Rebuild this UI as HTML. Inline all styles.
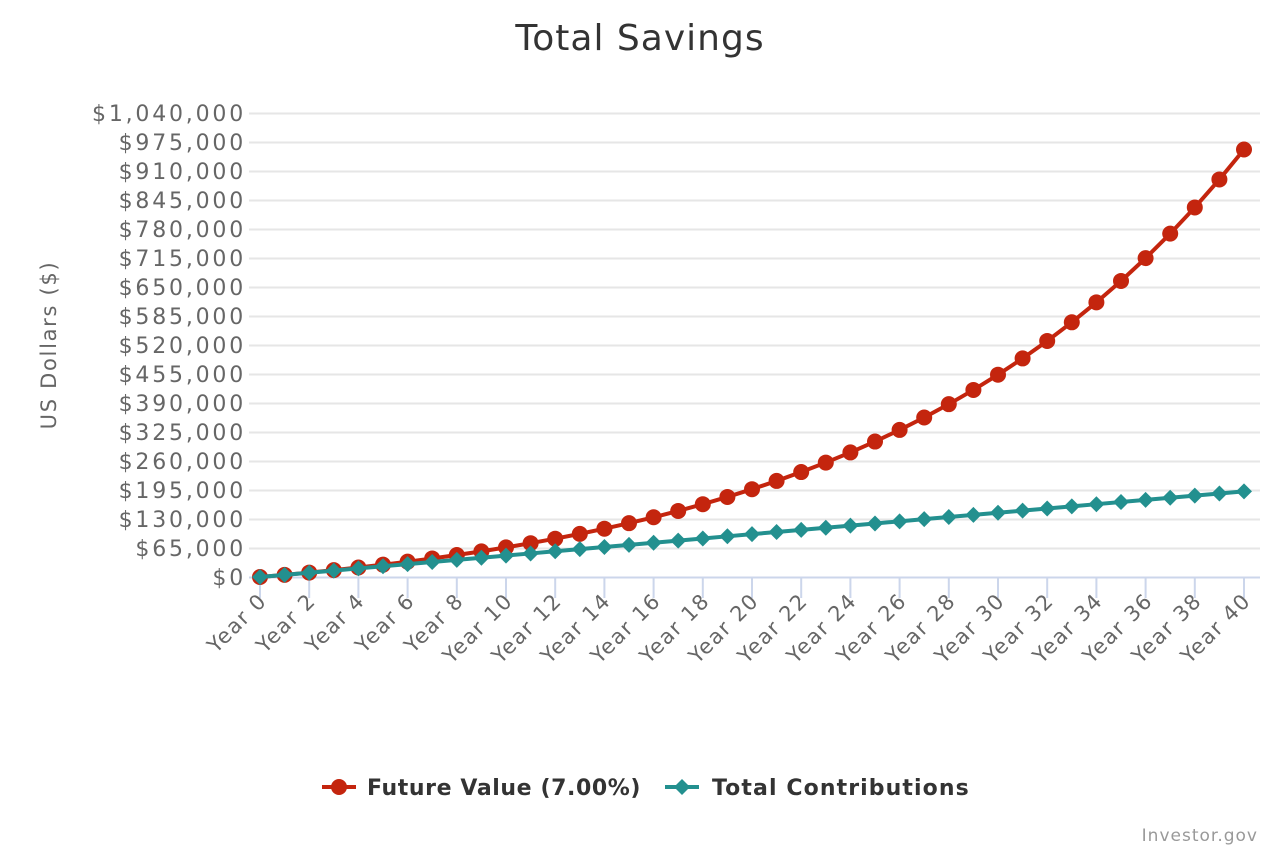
<!DOCTYPE html>
<html><head><meta charset="utf-8"><style>
html,body{margin:0;padding:0;background:#fff;}
svg{display:block;font-family:"DejaVu Sans","Liberation Sans",sans-serif;}
</style></head><body>
<svg id="c" width="1280" height="853" viewBox="0 0 1280 853">
<text x="640" y="50" text-anchor="middle" font-size="36" letter-spacing="1" fill="#333">Total Savings</text>
<g id="grid" stroke="#e6e6e6" stroke-width="2"></g>
<line x1="249" y1="577.5" x2="1260" y2="577.5" stroke="#ccd6eb" stroke-width="2"/>
<g id="ticks" stroke="#ccd6eb" stroke-width="2"></g>
<g font-size="22" letter-spacing="2.8" fill="#666" text-anchor="end">
<text x="246" y="585">$0</text>
<text x="246" y="556">$65,000</text>
<text x="246" y="527">$130,000</text>
<text x="246" y="498">$195,000</text>
<text x="246" y="469">$260,000</text>
<text x="246" y="440">$325,000</text>
<text x="246" y="411">$390,000</text>
<text x="246" y="382">$455,000</text>
<text x="246" y="353">$520,000</text>
<text x="246" y="324">$585,000</text>
<text x="246" y="295">$650,000</text>
<text x="246" y="266">$715,000</text>
<text x="246" y="237">$780,000</text>
<text x="246" y="208">$845,000</text>
<text x="246" y="179">$910,000</text>
<text x="246" y="150">$975,000</text>
<text x="246" y="121">$1,040,000</text>
</g>
<text transform="translate(56,345) rotate(-90)" text-anchor="middle" font-size="21" letter-spacing="1.7" fill="#666">US Dollars ($)</text>
<g font-size="21" letter-spacing="1.5" fill="#666" text-anchor="end">
<text transform="translate(268,602) rotate(-45)">Year 0</text>
<text transform="translate(317,602) rotate(-45)">Year 2</text>
<text transform="translate(366,602) rotate(-45)">Year 4</text>
<text transform="translate(416,602) rotate(-45)">Year 6</text>
<text transform="translate(465,602) rotate(-45)">Year 8</text>
<text transform="translate(514,602) rotate(-45)">Year 10</text>
<text transform="translate(563,602) rotate(-45)">Year 12</text>
<text transform="translate(612,602) rotate(-45)">Year 14</text>
<text transform="translate(662,602) rotate(-45)">Year 16</text>
<text transform="translate(711,602) rotate(-45)">Year 18</text>
<text transform="translate(760,602) rotate(-45)">Year 20</text>
<text transform="translate(809,602) rotate(-45)">Year 22</text>
<text transform="translate(858,602) rotate(-45)">Year 24</text>
<text transform="translate(908,602) rotate(-45)">Year 26</text>
<text transform="translate(957,602) rotate(-45)">Year 28</text>
<text transform="translate(1006,602) rotate(-45)">Year 30</text>
<text transform="translate(1055,602) rotate(-45)">Year 32</text>
<text transform="translate(1104,602) rotate(-45)">Year 34</text>
<text transform="translate(1154,602) rotate(-45)">Year 36</text>
<text transform="translate(1203,602) rotate(-45)">Year 38</text>
<text transform="translate(1252,602) rotate(-45)">Year 40</text>
</g>
<g id="series"></g>
<g font-size="22" font-weight="bold" fill="#333">
<line x1="322" y1="787" x2="356" y2="787" stroke="#c4250e" stroke-width="4"/>
<circle cx="339" cy="787" r="8" fill="#c4250e"/>
<text x="367" y="795" letter-spacing="0.6">Future Value (7.00%)</text>
<line x1="665" y1="787" x2="699" y2="787" stroke="#23908f" stroke-width="4"/>
<path d="M682 779 L690 787 L682 795 L674 787Z" fill="#23908f"/>
<text x="712" y="795" letter-spacing="1.1">Total Contributions</text>
</g>
<text x="1258" y="841" text-anchor="end" font-size="17" letter-spacing="1" fill="#999">Investor.gov</text>
</svg>
<script>
var ns="http://www.w3.org/2000/svg";
function el(p,t,a){var e=document.createElementNS(ns,t);for(var k in a)e.setAttribute(k,a[k]);p.appendChild(e);return e;}
var g=document.getElementById('grid');
for(var i=1;i<=16;i++){var y=577.5-29*i;el(g,'line',{x1:249,x2:1260,y1:y,y2:y});}
var t=document.getElementById('ticks');
for(var i=0;i<=20;i++){var x=260+49.2*i;el(t,'line',{x1:x,x2:x,y1:578,y2:598});}
var s=document.getElementById('series');
function X(n){return 260+24.6*n;}function Y(v){return 577-v/65000*29;}
var fv=[],tc=[];
for(var n=0;n<=40;n++){fv.push([X(n),Y(4800*(Math.pow(1.07,n)-1)/0.07)]);tc.push([X(n),Y(4800*n)]);}
el(s,'polyline',{points:fv.join(' '),fill:'none',stroke:'#c4250e','stroke-width':4});
fv.forEach(function(p){el(s,'circle',{cx:p[0],cy:p[1],r:8,fill:'#c4250e'});});
el(s,'polyline',{points:tc.join(' '),fill:'none',stroke:'#23908f','stroke-width':4});
tc.forEach(function(p){el(s,'path',{d:'M'+p[0]+' '+(p[1]-8)+'L'+(p[0]+8)+' '+p[1]+'L'+p[0]+' '+(p[1]+8)+'L'+(p[0]-8)+' '+p[1]+'Z',fill:'#23908f'});});
</script>
</body></html>
